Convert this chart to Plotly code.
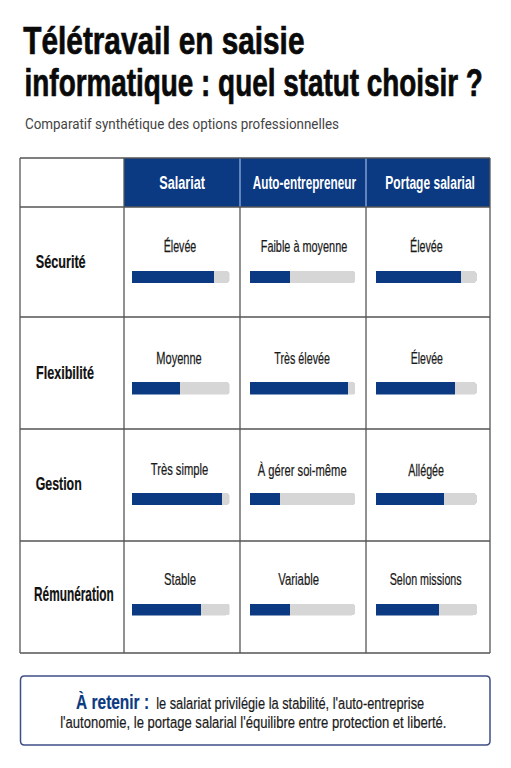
import json
import plotly.graph_objects as go

W, H = 511, 768
BOLD = "Liberation Sans, Arimo, sans-serif"
SANS = "Roboto, Liberation Sans, sans-serif"
NAVY = "#0b3a82"
TRACK = "#d6d6d6"
GRID = "#555555"

title_lines = ["Télétravail en saisie", "informatique : quel statut choisir ?"]
subtitle = "Comparatif synthétique des options professionnelles"
statuses = ["Salariat", "Auto-entrepreneur", "Portage salarial"]
criteria = ["Sécurité", "Flexibilité", "Gestion", "Rémunération"]
labels = [
    ["Élevée", "Faible à moyenne", "Élevée"],
    ["Moyenne", "Très élevée", "Élevée"],
    ["Très simple", "À gérer soi-même", "Allégée"],
    ["Stable", "Variable", "Selon missions"],
]
scores = [
    [84, 38, 84],
    [49, 93, 78],
    [92, 28, 67],
    [71, 38, 62],
]
takeaway_head = "À retenir :"
takeaway_line1 = "le salariat privilégie la stabilité, l'auto-entreprise"
takeaway_line2 = "l'autonomie, le portage salarial l'équilibre entre protection et liberté."

col_x = [20, 124, 240, 366, 490]
row_y = [158, 207, 317, 429, 541, 653]
track_x = [(132, 229.5), (249.5, 355), (376, 477)]
track_y = [(271, 283), (382, 394.5), (493, 505), (603.5, 615.5)]
label_cy = [[247, 247, 247], [358.5, 358.5, 358.5], [469.5, 470.5, 470], [579.5, 579.5, 579.5]]
crit_cy = [262, 372, 483, 594]

# horizontal extents (left, right) of the text runs, in page pixels
title_span = [(23.3, 304.5), (24.5, 483)]
subtitle_span = (25, 339)
head_span = [(159.3, 205), (252.7, 356), (385.3, 475)]
crit_span = [(35.7, 85.7), (36, 94), (35.7, 81.7), (34, 113.7)]
label_span = [
    [(163.7, 196.3), (260.7, 347.3), (410, 442.7)],
    [(156.3, 201.7), (274.3, 330), (410.7, 443)],
    [(150.7, 208.3), (257.7, 346.7), (408.3, 444)],
    [(164, 196), (278.3, 319), (389.7, 461.7)],
]
take_span = [(76, 424.3), (60, 446.7)]


def px(x):
    return x / W


def py(y):
    return 1 - y / H


fig = go.Figure()
layout_axes = {}
n = 0
for r, row in enumerate(scores):
    for c, v in enumerate(row):
        n += 1
        xa, ya = f"x{n}", f"y{n}"
        fig.add_trace(go.Bar(y=[criteria[r]], x=[v], orientation="h", xaxis=xa, yaxis=ya,
                             marker=dict(color=NAVY, line_width=0), width=1, showlegend=False,
                             name=statuses[c]))
        fig.add_trace(go.Bar(y=[criteria[r]], x=[100 - v], orientation="h", xaxis=xa, yaxis=ya,
                             marker=dict(color=TRACK, line_width=0), width=1, showlegend=False,
                             hoverinfo="skip"))
        layout_axes[f"xaxis{n}"] = dict(domain=[px(track_x[c][0]), px(track_x[c][1])], range=[0, 100],
                                        visible=False, anchor=ya, fixedrange=True)
        layout_axes[f"yaxis{n}"] = dict(domain=[py(track_y[r][1]), py(track_y[r][0])], visible=False,
                                        anchor=xa, fixedrange=True)

shapes = [
    dict(type="rect", xref="paper", yref="paper", x0=px(col_x[1]), x1=px(col_x[4]), y0=py(row_y[1]), y1=py(row_y[0]),
         fillcolor=NAVY, line_width=0, layer="below"),
]
for i, x in enumerate(col_x):
    top = row_y[1] if i in (2, 3) else row_y[0]
    shapes.append(dict(type="line", xref="paper", yref="paper", x0=px(x), x1=px(x), y0=py(row_y[-1]), y1=py(top),
                       line=dict(color=GRID, width=1.3)))
for x in col_x[2:4]:
    shapes.append(dict(type="line", xref="paper", yref="paper", x0=px(x), x1=px(x), y0=py(row_y[1]), y1=py(row_y[0]),
                       line=dict(color="#9db8e4", width=1.2)))
for i, y in enumerate(row_y):
    shapes.append(dict(type="line", xref="paper", yref="paper", x0=px(col_x[0]), x1=px(col_x[4]), y0=py(y), y1=py(y),
                       line=dict(color=GRID, width=1.3)))

bx0, bx1, by0, by1, rad = 20.5, 490, 676, 745, 4
path = (f"M {px(bx0+rad)} {py(by0)} L {px(bx1-rad)} {py(by0)} Q {px(bx1)} {py(by0)} {px(bx1)} {py(by0+rad)} "
        f"L {px(bx1)} {py(by1-rad)} Q {px(bx1)} {py(by1)} {px(bx1-rad)} {py(by1)} "
        f"L {px(bx0+rad)} {py(by1)} Q {px(bx0)} {py(by1)} {px(bx0)} {py(by1-rad)} "
        f"L {px(bx0)} {py(by0+rad)} Q {px(bx0)} {py(by0)} {px(bx0+rad)} {py(by0)} Z")
shapes.append(dict(type="path", xref="paper", yref="paper", path=path, line=dict(color="#3f4f86", width=1.5),
                   fillcolor="white"))

ann, spans, heft = [], [], []


def note(span, y, text, size, color="#111111", family=BOLD, weight=0.0):
    ann.append(dict(x=px((span[0] + span[1]) / 2), y=py(y), xref="paper", yref="paper", text=text, showarrow=False,
                    xanchor="center", yanchor="middle", align="center",
                    font=dict(size=size, color=color, family=family)))
    spans.append(span)
    heft.append(weight)


note(title_span[0], 41, f"<b>{title_lines[0]}</b>", 38, "#0a0a0a", weight=0.7)
note(title_span[1], 83, f"<b>{title_lines[1]}</b>", 38, "#0a0a0a", weight=0.7)
note(subtitle_span, 124, subtitle, 14.2, "#444444", SANS)
for c, s in enumerate(statuses):
    note(head_span[c], 182.5, f"<b>{s}</b>", 18.5, "white")
for r, cr in enumerate(criteria):
    note(crit_span[r], crit_cy[r], f"<b>{cr}</b>", 19.5 if r == 3 else 19, "#111111", weight=0.2)
    for c in range(3):
        note(label_span[r][c], label_cy[r][c], labels[r][c], 17, "#1a1a1a", weight=0.25)
note(take_span[0], 701, f'<b><span style="color:{NAVY};font-size:20.5px">{takeaway_head}</span></b>  {takeaway_line1}',
     17, "#1a1a1a", weight=0.2)
note(take_span[1], 722, takeaway_line2, 17, "#1a1a1a", weight=0.2)

fig.update_layout(width=W, height=H, margin=dict(l=0, r=0, t=0, b=0), paper_bgcolor="white", plot_bgcolor="rgba(0,0,0,0)",
                  barmode="stack", barcornerradius=4, bargap=0, shapes=shapes, annotations=ann, showlegend=False,
                  **layout_axes)

# no condensed face is installed: fit each text run to its measured width
fit = """
document.body.style.margin='0';
var spans = %s, heft = %s;
document.querySelectorAll('.annotation-text').forEach(function(t, i){
  var b = t.getBBox(), r = t.getBoundingClientRect();
  var k = (spans[i][1]-spans[i][0]) / r.width;
  var off = r.left - b.x;
  var e = spans[i][0] - off - k*b.x;
  t.setAttribute('transform', 'matrix('+k+' 0 0 1 '+e+' 0)');
  if (heft[i] > 0) {
    [t].concat(Array.from(t.querySelectorAll('tspan'))).forEach(function(el){
      el.style.stroke = getComputedStyle(el).fill;
      el.style.strokeWidth = heft[i] + 'px';
    });
  }
});
""" % (json.dumps(spans), json.dumps(heft))
fig.write_html("out.html", config={"displayModeBar": False}, post_script=fit)
